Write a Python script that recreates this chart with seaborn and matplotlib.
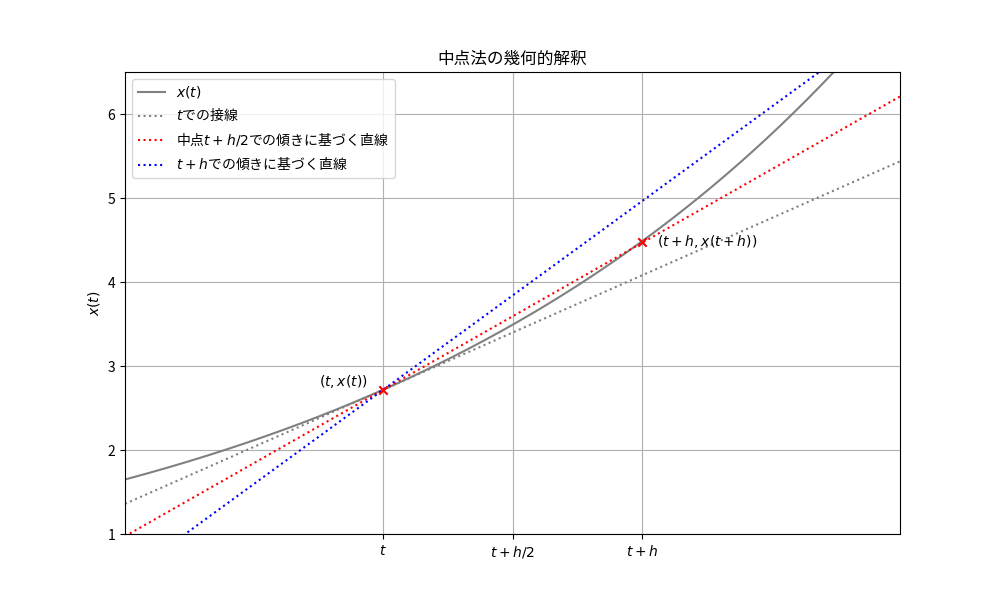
import numpy as np
import pandas as pd
import matplotlib
matplotlib.use("Agg")
import matplotlib.pyplot as plt
import seaborn as sns

plt.rcParams['font.family'] = ['Noto Sans CJK JP', 'DejaVu Sans']
plt.rcParams['axes.unicode_minus'] = False

# parameters of the illustration: x(t) = exp(t)
t0 = 1.0
h = 0.5
x_range = [0.5, 2.0]
y_range = [1.0, 6.5]
tick_labels = ["$t$", "$t+h/2$", "$t+h$"]
legend_labels = ["$x(t)$", "$t$での接線", "中点$t+h/2$での傾きに基づく直線", "$t+h$での傾きに基づく直線"]
colors = ["gray", "gray", "red", "blue"]

ts = np.linspace(x_range[0], x_range[1], 400)
xt = np.exp(ts)
x0 = np.exp(t0)
x1 = np.exp(t0 + h)
slope_t = np.exp(t0)
slope_mid = np.exp(t0 + h / 2)
slope_end = np.exp(t0 + h)

df = pd.DataFrame({
    "t": ts,
    "curve": xt,
    "tan": x0 + slope_t * (ts - t0),
    "mid": x0 + slope_mid * (ts - t0),
    "end": x0 + slope_end * (ts - t0),
})

fig, ax = plt.subplots(figsize=(10, 6), dpi=100)
sns.lineplot(data=df, x="t", y="curve", ax=ax, color=colors[0], linestyle="-", label=legend_labels[0])
sns.lineplot(data=df, x="t", y="tan", ax=ax, color=colors[1], linestyle=":", label=legend_labels[1])
sns.lineplot(data=df, x="t", y="mid", ax=ax, color=colors[2], linestyle=":", label=legend_labels[2])
sns.lineplot(data=df, x="t", y="end", ax=ax, color=colors[3], linestyle=":", label=legend_labels[3])

ax.scatter([t0, t0 + h], [x0, x1], color="red", marker="x", zorder=5)
ax.text(t0 - 0.03, x0 + 0.1, "$(t, x(t))$", ha="right", va="center", fontsize=10)
ax.text(t0 + h + 0.03, x1, "$(t+h, x(t+h))$", ha="left", va="center", fontsize=10)

ax.set_xlim(*x_range)
ax.set_ylim(*y_range)
ax.set_xticks([t0, t0 + h / 2, t0 + h])
ax.set_xticklabels(tick_labels)
ax.set_xlabel("")
ax.set_ylabel("$x(t)$")
ax.set_title("中点法の幾何的解釈")
ax.grid(True)
ax.legend(loc="upper left")

fig.savefig("out.png", dpi=100)
